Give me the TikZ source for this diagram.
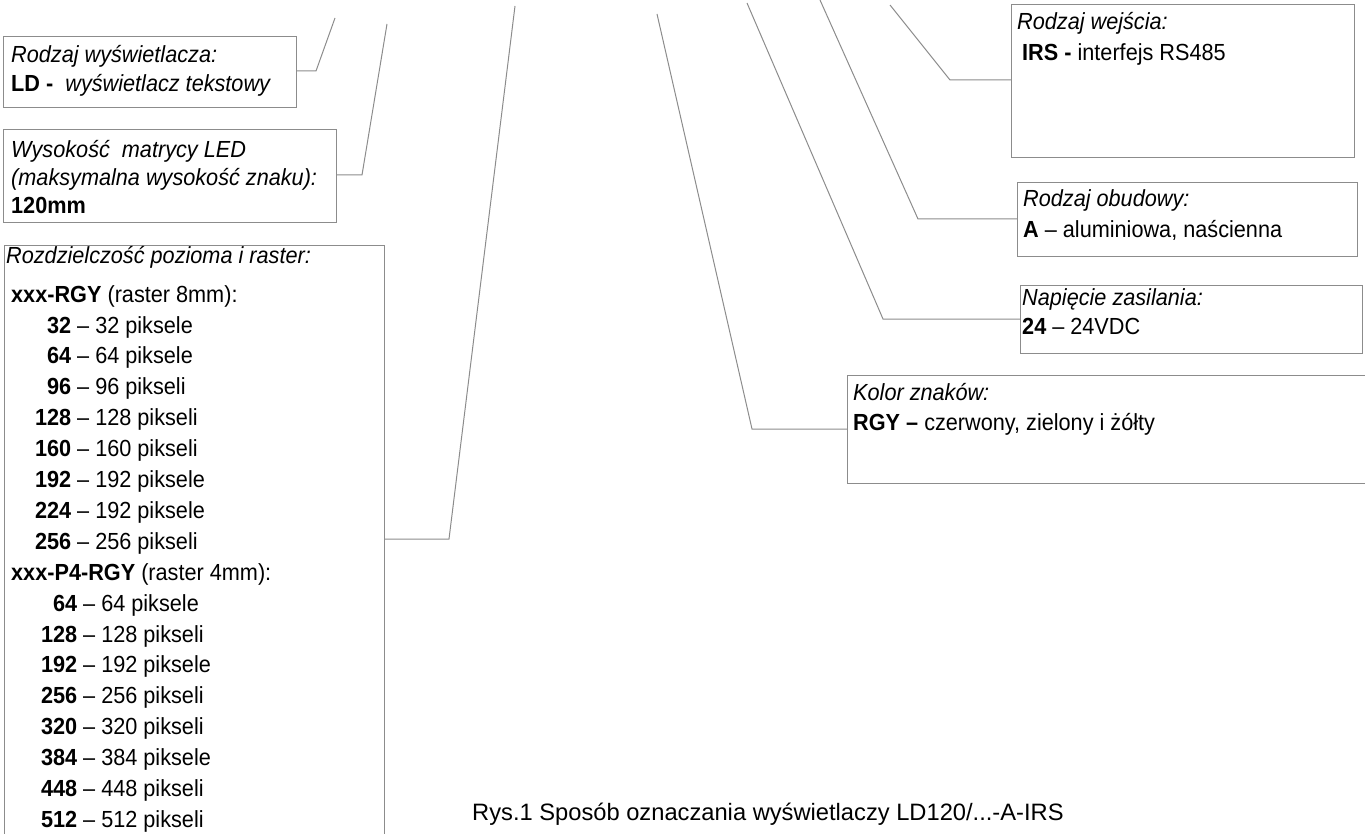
\documentclass[tikz,border=0pt]{standalone}
\usepackage{fontspec}
\setmainfont{Liberation Sans}[FakeStretch=0.93]
\newfontfamily\podpis{Liberation Sans}
\definecolor{ramkagray}{gray}{0.55}
\newcommand{\hs}{\rule{0pt}{24pt}}
\newcommand{\pa}[2]{\makebox[65pt][r]{\textbf{#1}} – #2}
\newcommand{\pb}[2]{\makebox[71pt][r]{\textbf{#1}} – #2}

\begin{document}
\begin{tikzpicture}[x=1pt, y=-1pt,
  ramka/.style={draw=ramkagray, line width=1.2pt, anchor=north west, inner sep=0pt},
  opis/.style={anchor=north west, inner sep=0pt, align=left},
  lead/.style={draw=ramkagray, line width=1pt}]
\clip (0,0) rectangle (1365,834);
\node[ramka, minimum width=293, minimum height=71] (wys) at (3,36) {};
\node[ramka, minimum width=333, minimum height=93] (mat) at (3,129) {};
\node[ramka, minimum width=380, minimum height=620] (roz) at (4,245) {};
\node[ramka, minimum width=343, minimum height=153] (wej) at (1011,4) {};
\node[ramka, minimum width=340, minimum height=74] (obu) at (1017,182) {};
\node[ramka, minimum width=342, minimum height=68] (nap) at (1020,285) {};
\node[ramka, minimum width=540, minimum height=108] (kol) at (847,375) {};

\node[opis, font=\fontsize{23.3}{29}\selectfont] (wysT) at (11,38)
  {\hs\textit{Rodzaj wyświetlacza:}\\ \textbf{LD -}\ \ \textit{wyświetlacz tekstowy}};
\node[opis, font=\fontsize{23.3}{28}\selectfont] (matT) at (11,133)
  {\hs\textit{Wysokość\ \ matrycy LED}\\ \textit{(maksymalna wysokość znaku):}\\ \textbf{120mm}};
\node[opis, font=\fontsize{23.3}{30.9}\selectfont] (rozT) at (6,239)
  {\hs\textit{Rozdzielczość pozioma i raster:}\\[8pt]
   \hspace{5pt}\textbf{xxx-RGY} (raster 8mm):\\
   \pa{32}{32 piksele}\\ \pa{64}{64 piksele}\\ \pa{96}{96 pikseli}\\
   \pa{128}{128 pikseli}\\ \pa{160}{160 pikseli}\\ \pa{192}{192 piksele}\\
   \pa{224}{192 piksele}\\ \pa{256}{256 pikseli}\\
   \hspace{5pt}\textbf{xxx-P4-RGY} (raster 4mm):\\
   \pb{64}{64 piksele}\\ \pb{128}{128 pikseli}\\ \pb{192}{192 piksele}\\
   \pb{256}{256 pikseli}\\ \pb{320}{320 pikseli}\\ \pb{384}{384 piksele}\\
   \pb{448}{448 pikseli}\\ \pb{512}{512 pikseli}};
\node[opis, font=\fontsize{23.3}{31}\selectfont] (wejT) at (1017,5)
  {\hs\textit{Rodzaj wejścia:}\\ \hspace{5pt}\textbf{IRS -} interfejs RS485};
\node[opis, font=\fontsize{23.3}{31}\selectfont] (obuT) at (1023,182)
  {\hs\textit{Rodzaj obudowy:}\\ \textbf{A} – aluminiowa, naścienna};
\node[opis, font=\fontsize{23.3}{29}\selectfont] (napT) at (1022,281)
  {\hs\textit{Napięcie zasilania:}\\ \textbf{24} – 24VDC};
\node[opis, font=\fontsize{23.3}{30}\selectfont] (kolT) at (853,376)
  {\hs\textit{Kolor znaków:}\\ \textbf{RGY –} czerwony, zielony i żółty};

\node[anchor=base west, inner sep=0pt, font=\podpis\fontsize{23.7}{28}\selectfont] (rys) at (472,820)
  {Rys.1 Sposób oznaczania wyświetlaczy LD120/...-A-IRS};

\coordinate (wysK) at (316,71);  \coordinate (wysE) at (335,18);
\coordinate (matK) at (362,175); \coordinate (matE) at (387,24);
\coordinate (rozK) at (449,539); \coordinate (rozE) at (515,6);
\coordinate (wejK) at (950,80);  \coordinate (wejE) at (890,5);
\coordinate (obuK) at (918,219); \coordinate (obuE) at (820,0);
\coordinate (napK) at (883,319); \coordinate (napE) at (747,3);
\coordinate (kolK) at (752,429); \coordinate (kolE) at (657,14);
\draw[lead] (wys.east |- wysK) -- (wysK) -- (wysE);
\draw[lead] (mat.east |- matK) -- (matK) -- (matE);
\draw[lead] (roz.east |- rozK) -- (rozK) -- (rozE);
\draw[lead] (wej.west |- wejK) -- (wejK) -- (wejE);
\draw[lead] (obu.west |- obuK) -- (obuK) -- (obuE);
\draw[lead] (nap.west |- napK) -- (napK) -- (napE);
\draw[lead] (kol.west |- kolK) -- (kolK) -- (kolE);
\end{tikzpicture}
\end{document}
